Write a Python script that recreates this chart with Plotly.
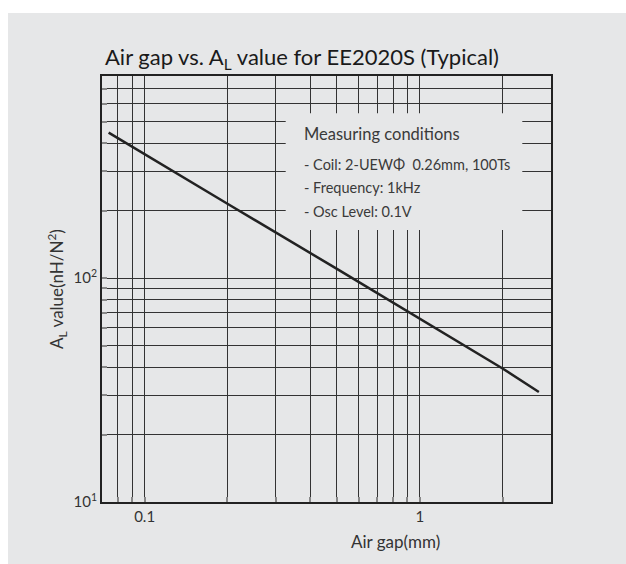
import plotly.graph_objects as go

# Data
air_gap_mm = [0.074, 0.1, 0.2, 0.5, 1.0, 2.0, 2.71]
al_value = [447, 359, 215, 110, 66, 39.5, 31]

x_major = [0.1, 1]
x_labels = ["0.1", "1"]
x_minor = [0.08, 0.09, 0.2, 0.3, 0.4, 0.5, 0.6, 0.7, 0.8, 0.9, 2]
y_major = [10, 100]
y_labels = ["10<sup>1</sup>", "10<sup>2</sup>"]
y_minor = [20, 30, 40, 50, 60, 70, 80, 90, 200, 300, 400, 500, 600, 700]

title_text = "Air gap vs. A<sub>L</sub> value for EE2020S (Typical)"
cond_title = "Measuring conditions"
cond_lines = ["- Coil: 2-UEWΦ  0.26mm, 100Ts", "- Frequency: 1kHz", "- Osc Level: 0.1V"]
x_title = "Air gap(mm)"
y_title = "A<sub>L</sub> value(nH/N<sup>2</sup>)"

BG = "#e6e7e8"
FONT = "Lato"
W, H = 626, 564
L, R, T, B = 102, 75, 76, 62
PW, PH = W - L - R, H - T - B


def px(xp):
    return (xp - L) / PW


def py(yp):
    return (H - B - yp) / PH


fig = go.Figure()
fig.add_trace(go.Scatter(x=air_gap_mm, y=al_value, mode="lines",
                         line=dict(color="#222222", width=2.5), showlegend=False,
                         hoverinfo="skip"))

axis_common = dict(type="log", showline=True, mirror=True, linecolor="#222222",
                   linewidth=2, showgrid=True, gridcolor="#333333", gridwidth=1,
                   zeroline=False, ticks="inside", ticklen=5, tickwidth=2,
                   tickcolor="#888888", tickmode="array",
                   tickfont=dict(family=FONT, size=15, color="#333333"))
minor_common = dict(showgrid=True, gridcolor="#333333", gridwidth=1,
                    ticks="inside", ticklen=5, tickwidth=2, tickcolor="#888888")

fig.update_xaxes(range=[-1.1549, 0.4771], tickvals=x_major, ticktext=x_labels,
                 minor=dict(tickvals=x_minor, **minor_common), **axis_common)
fig.update_yaxes(range=[1, 2.9031], tickvals=y_major, ticktext=y_labels,
                 minor=dict(tickvals=y_minor, **minor_common), **axis_common)

shapes = [
    # white strips around the gray panel
    dict(type="rect", xref="paper", yref="paper", x0=px(0), x1=px(8), y0=py(H), y1=py(0),
         fillcolor="white", line=dict(width=0), layer="below"),
    dict(type="rect", xref="paper", yref="paper", x0=px(0), x1=px(W), y0=py(13), y1=py(0),
         fillcolor="white", line=dict(width=0), layer="below"),
    # box behind measuring conditions
    dict(type="rect", xref="paper", yref="paper", x0=px(285.7), x1=px(522.3),
         y0=py(230), y1=py(113.3), fillcolor=BG, line=dict(width=0), layer="above"),
]

annotations = [
    dict(text=title_text, xref="paper", yref="paper", x=px(103), y=py(58),
         xanchor="left", yanchor="middle", showarrow=False,
         font=dict(family=FONT, size=22, color="#1a1a1a")),
    dict(text=cond_title, xref="paper", yref="paper", x=px(302), y=py(134),
         xanchor="left", yanchor="middle", showarrow=False,
         font=dict(family=FONT, size=16.5, color="#3a3a3a")),
    dict(text=x_title, xref="paper", yref="paper", x=px(395), y=py(541),
         xanchor="center", yanchor="middle", showarrow=False,
         font=dict(family=FONT, size=17, color="#333333")),
    dict(text=y_title, xref="paper", yref="paper", x=px(57), y=py(289),
         xanchor="center", yanchor="middle", textangle=-90, showarrow=False,
         font=dict(family=FONT, size=17, color="#333333")),
]
for i, t in enumerate(cond_lines):
    annotations.append(dict(text=t, xref="paper", yref="paper", x=px(302),
                            y=py(164 + 23.5 * i), xanchor="left", yanchor="middle",
                            showarrow=False,
                            font=dict(family=FONT, size=14.5, color="#3a3a3a")))

fig.update_layout(width=W, height=H, margin=dict(l=L, r=R, t=T, b=B),
                  paper_bgcolor=BG, plot_bgcolor=BG, shapes=shapes,
                  annotations=annotations, showlegend=False)

fig.write_html("out.html")
